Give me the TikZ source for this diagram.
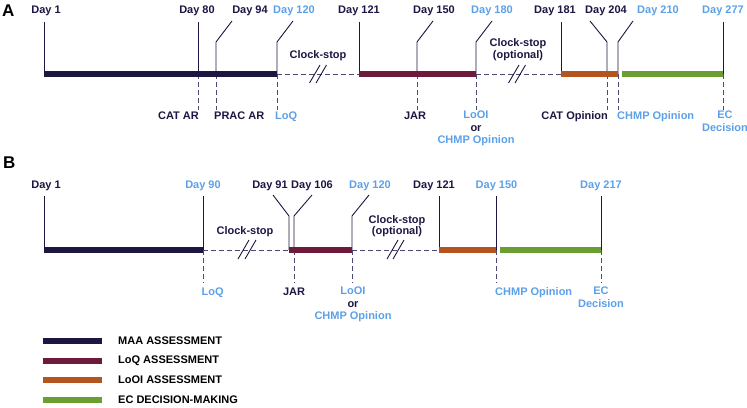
\documentclass[tikz,border=0pt]{standalone}
\usepackage{fontspec}
\setmainfont{Liberation Sans}
\usetikzlibrary{positioning}
\definecolor{emanavy}{HTML}{1C1642}
\definecolor{emamaroon}{HTML}{6D1A3D}
\definecolor{emaorange}{HTML}{B4541F}
\definecolor{emagreen}{HTML}{6B9E30}
\definecolor{emablue}{HTML}{5CA0E8}
\definecolor{emadash}{HTML}{4B4A72}

\begin{document}
\begin{tikzpicture}[x=1pt, y=-1pt,
  lbl/.style={font=\fontsize{11}{12.5}\selectfont\bfseries, text=emanavy, inner sep=0pt, anchor=base},
  lblb/.style={lbl, text=emablue},
  panel/.style={font=\fontsize{17}{17}\selectfont\bfseries, text=black, inner sep=0pt, anchor=base west},
  tick/.style={draw=emanavy, line width=0.9pt},
  drop/.style={draw=emadash, line width=0.9pt, dash pattern=on 5pt off 3pt},
  brk/.style={draw=emanavy, line width=0.9pt},
  phase/.style={line width=6pt}]
  \useasboundingbox (0,0) rectangle (747,407);

  % ---------- panel A ----------
  \node[panel] (pa) at (2,16) {A};
  \coordinate (a1) at (44,74);   \coordinate (a1t) at (44,22);
  \coordinate (a80) at (198,74); \coordinate (a80t) at (198,22); \coordinate (a80b) at (198,110);
  \coordinate (a94) at (216,74); \coordinate (a94k) at (216,42); \coordinate (a94t) at (232,21); \coordinate (a94b) at (216,110);
  \coordinate (a120) at (277,74); \coordinate (a120k) at (277,42); \coordinate (a120t) at (293,21); \coordinate (a120b) at (277,110);
  \coordinate (a121) at (359,74); \coordinate (a121t) at (359,22);
  \coordinate (a150) at (417,74); \coordinate (a150k) at (417,42); \coordinate (a150t) at (433,21); \coordinate (a150b) at (417,110);
  \coordinate (a180) at (476,74); \coordinate (a180k) at (476,42); \coordinate (a180t) at (492,21); \coordinate (a180b) at (476,110);
  \coordinate (a181) at (561,74); \coordinate (a181t) at (561,22);
  \coordinate (a204) at (607,74); \coordinate (a204k) at (607,42); \coordinate (a204t) at (590,21); \coordinate (a204b) at (607,110);
  \coordinate (a210) at (618,74); \coordinate (a210k) at (618,42); \coordinate (a210t) at (633,21); \coordinate (a210b) at (618,110);
  \coordinate (a210g) at (622,74);
  \coordinate (a277) at (723,74); \coordinate (a277t) at (723,22); \coordinate (a277b) at (723,110);

  \node[lbl] (da1) at (46,13) {Day 1};
  \node[lbl] (da80) at (197,13) {Day 80};
  \node[lbl] (da94) at (250,13) {Day 94};
  \node[lblb] (da120) at (294,13) {Day 120};
  \node[lbl] (da121) at (359,13) {Day 121};
  \node[lbl] (da150) at (434,13) {Day 150};
  \node[lblb] (da180) at (492,13) {Day 180};
  \node[lbl] (da181) at (555,13) {Day 181};
  \node[lbl] (da204) at (606,13) {Day 204};
  \node[lblb] (da210) at (658,13) {Day 210};
  \node[lblb] (da277) at (723,13) {Day 277};

  \node[lbl] (csa1) at (318,58) {Clock-stop};
  \node[lbl] (csa2) at (518,46.5) {Clock-stop};
  \node[lbl] (csa2o) at (518,58) {(optional)};

  \draw[drop] (a120) -- (a121);
  \draw[drop] (a180) -- (a181);
  \draw[brk] (309.5,83) -- (320,65) (316,83) -- (326.5,65);
  \draw[brk] (508.5,83) -- (519,65) (515,83) -- (525.5,65);
  \draw[drop] (a80) -- (a80b);
  \draw[drop] (a94) -- (a94b);
  \draw[drop] (a120) -- (a120b);
  \draw[drop] (a150) -- (a150b);
  \draw[drop] (a180) -- (a180b);
  \draw[drop] (a204) -- (a204b);
  \draw[drop] (a210) -- (a210b);
  \draw[drop] (a277) -- (a277b);

  \draw[tick] (a1t) -- (a1);
  \draw[tick] (a80t) -- (a80);
  \draw[tick] (a94t) -- (a94k) -- (a94);
  \draw[tick] (a120t) -- (a120k) -- (a120);
  \draw[tick] (a121t) -- (a121);
  \draw[tick] (a150t) -- (a150k) -- (a150);
  \draw[tick] (a180t) -- (a180k) -- (a180);
  \draw[tick] (a181t) -- (a181);
  \draw[tick] (a204t) -- (a204k) -- (a204);
  \draw[tick] (a210t) -- (a210k) -- (a210);
  \draw[tick] (a277t) -- (a277);

  \draw[phase, emanavy] (a1) -- (a120);
  \draw[phase, emamaroon] (a121) -- (a180);
  \draw[phase, emaorange] (a181) -- (a210);
  \draw[phase, emagreen] (a210g) -- (a277);

  \node[lbl, anchor=base east] (catar) at (199,119) {CAT AR};
  \node[lbl, anchor=base west] (pracar) at (214,119) {PRAC AR};
  \node[lblb, anchor=base west] (loqa) at (275,119) {LoQ};
  \node[lbl] (jara) at (415,119) {JAR};
  \node[lbl, anchor=north, align=center] (looia) at (476,111)
    {{\color{emablue}LoOI}\\or\\{\color{emablue}CHMP Opinion}};
  \node[lbl, anchor=base east] (catop) at (608,119) {CAT Opinion};
  \node[lblb, anchor=base west] (chmpa) at (617,119) {CHMP Opinion};
  \node[lblb, anchor=north, align=center] (eca) at (725,111) {EC\\Decision};

  % ---------- panel B ----------
  \node[panel] (pb) at (3,168) {B};
  \coordinate (b1) at (44,250);   \coordinate (b1t) at (44,196);
  \coordinate (b90) at (203,250); \coordinate (b90t) at (203,196); \coordinate (b90b) at (203,283);
  \coordinate (b91) at (289,250); \coordinate (b91k) at (289,216); \coordinate (b91t) at (273,195);
  \coordinate (b106) at (294,250); \coordinate (b106k) at (294,216); \coordinate (b106t) at (312,195); \coordinate (b106b) at (294,283);
  \coordinate (b120) at (352,250); \coordinate (b120k) at (352,216); \coordinate (b120t) at (369,195); \coordinate (b120b) at (352,283);
  \coordinate (b121) at (439,250); \coordinate (b121t) at (439,196);
  \coordinate (b150) at (496,250); \coordinate (b150t) at (496,196); \coordinate (b150b) at (496,283);
  \coordinate (b150g) at (500,250);
  \coordinate (b217) at (601,250); \coordinate (b217t) at (601,196); \coordinate (b217b) at (601,283);

  \node[lbl] (db1) at (46,188.5) {Day 1};
  \node[lblb] (db90) at (203,188.5) {Day 90};
  \node[lbl] (db91) at (270,188.5) {Day 91};
  \node[lbl] (db106) at (312,188.5) {Day 106};
  \node[lblb] (db120) at (370,188.5) {Day 120};
  \node[lbl] (db121) at (434,188.5) {Day 121};
  \node[lblb] (db150) at (496.5,188.5) {Day 150};
  \node[lblb] (db217) at (601,188.5) {Day 217};

  \node[lbl] (csb1) at (245,234) {Clock-stop};
  \node[lbl] (csb2) at (397,223) {Clock-stop};
  \node[lbl] (csb2o) at (397,234.5) {(optional)};

  \draw[drop] (b90) -- (b91);
  \draw[drop] (b120) -- (b121);
  \draw[brk] (238,259) -- (249,240) (245,259) -- (256,240);
  \draw[brk] (387,259) -- (398,240) (393,259) -- (404,240);
  \draw[drop] (b90) -- (b90b);
  \draw[drop] (b106) -- (b106b);
  \draw[drop] (b120) -- (b120b);
  \draw[drop] (b150) -- (b150b);
  \draw[drop] (b217) -- (b217b);

  \draw[tick] (b1t) -- (b1);
  \draw[tick] (b90t) -- (b90);
  \draw[tick] (b91t) -- (b91k) -- (b91);
  \draw[tick] (b106t) -- (b106k) -- (b106);
  \draw[tick] (b120t) -- (b120k) -- (b120);
  \draw[tick] (b121t) -- (b121);
  \draw[tick] (b150t) -- (b150);
  \draw[tick] (b217t) -- (b217);

  \draw[phase, emanavy] (b1) -- (b90);
  \draw[phase, emamaroon] (b91) -- (b120);
  \draw[phase, emaorange] (b121) -- (b150);
  \draw[phase, emagreen] (b150g) -- (b217);

  \node[lblb, anchor=base west] (loqb) at (201.5,295) {LoQ};
  \node[lbl] (jarb) at (294,295) {JAR};
  \node[lbl, anchor=north, align=center] (looib) at (353,287)
    {{\color{emablue}LoOI}\\or\\{\color{emablue}CHMP Opinion}};
  \node[lblb, anchor=base west] (chmpb) at (495,295) {CHMP Opinion};
  \node[lblb, anchor=north, align=center] (ecb) at (601,287) {EC\\Decision};

  % ---------- legend ----------
  \coordinate (l1s) at (43,341); \coordinate (l1e) at (102,341);
  \coordinate (l2s) at (43,361); \coordinate (l2e) at (102,361);
  \coordinate (l3s) at (43,380); \coordinate (l3e) at (102,380);
  \coordinate (l4s) at (43,400); \coordinate (l4e) at (102,400);
  \draw[phase, emanavy] (l1s) -- (l1e);
  \draw[phase, emamaroon] (l2s) -- (l2e);
  \draw[phase, emaorange] (l3s) -- (l3e);
  \draw[phase, emagreen] (l4s) -- (l4e);
  \node[lbl, text=black, anchor=west, right=16pt of l1e] (leg1) {MAA ASSESSMENT};
  \node[lbl, text=black, anchor=west, right=16pt of l2e] (leg2) {LoQ ASSESSMENT};
  \node[lbl, text=black, anchor=west, right=16pt of l3e] (leg3) {LoOI ASSESSMENT};
  \node[lbl, text=black, anchor=west, right=16pt of l4e] (leg4) {EC DECISION-MAKING};
\end{tikzpicture}
\end{document}
